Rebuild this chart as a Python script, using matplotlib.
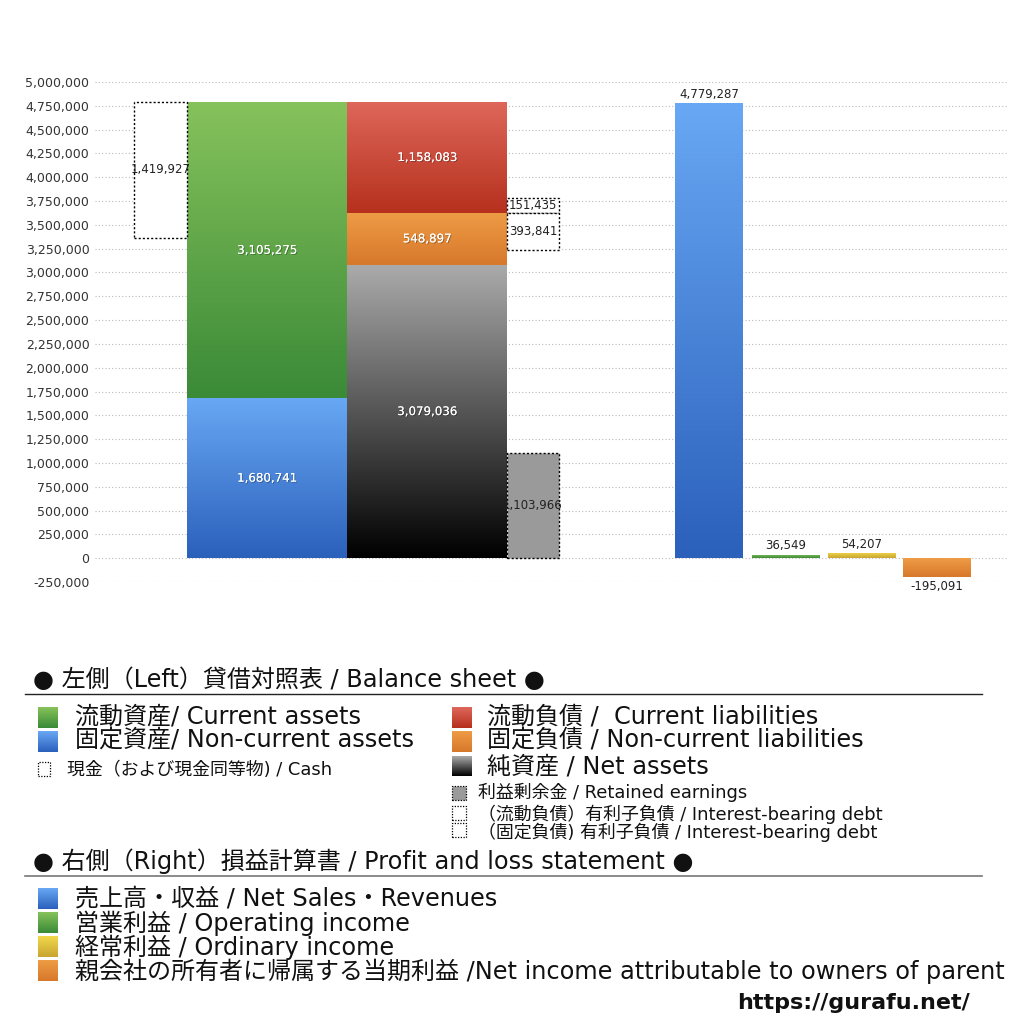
import numpy as np
import matplotlib
matplotlib.use("Agg")
import matplotlib.pyplot as plt
import matplotlib.patheffects as pe
from matplotlib.colors import LinearSegmentedColormap
from matplotlib.patches import Rectangle
from matplotlib.ticker import FuncFormatter

plt.rcParams['font.family'] = ['DejaVu Sans', 'Noto Sans CJK JP']

# balance sheet (left)
current_assets = 3105275
non_current_assets = 1680741
cash = 1419927
current_liabilities = 1158083
non_current_liabilities = 548897
net_assets = 3079036
retained_earnings = 1103966
debt_current = 151435
debt_non_current = 393841

# profit and loss (right)
pl_names = ['売上高・収益', '営業利益', '経常利益', '親会社の所有者に帰属する当期利益']
pl_values = [4779287, 36549, 54207, -195091]

yticks = list(range(-250000, 5000001, 250000))

# colours (top, bottom)
GREEN = ('#86c25c', '#3a8a37')
BLUE = ('#68a8f4', '#2b60bb')
RED = ('#de675a', '#b6301d')
ORANGE = ('#ee9c46', '#d7782b')
BLACK = ('#ababab', '#000000')
YELLOW = ('#f0d84a', '#c9a531')
PL_COLORS = [BLUE, GREEN, YELLOW, ORANGE]

W = H = 1024
fig = plt.figure(figsize=(10.24, 10.24), dpi=100)
ax = fig.add_axes([95 / W, 1 - 582 / H, 912 / W, 500 / H])


def grad_bar(x, h, w, bottom, cols):
    p = ax.bar(x, h, w, bottom=bottom, color='none', lw=0, zorder=2)[0]
    y0 = min(p.get_y(), p.get_y() + p.get_height())
    y1 = max(p.get_y(), p.get_y() + p.get_height())
    cmap = LinearSegmentedColormap.from_list('g', [cols[1], cols[0]])
    im = ax.imshow(np.linspace(0, 1, 256).reshape(-1, 1), cmap=cmap, origin='lower',
                   extent=[p.get_x(), p.get_x() + p.get_width(), y0, y1],
                   aspect='auto', zorder=2)
    im.set_clip_path(p)
    return p


def dotted_bar(x, h, w, bottom, face):
    return ax.bar(x, h, w, bottom=bottom, color=face, edgecolor='black',
                  linestyle=(0, (1.5, 1.5)), lw=1, zorder=3)[0]


shadow = [pe.withSimplePatchShadow(offset=(0.7, -0.7), shadow_rgbFace='black', alpha=0.3), pe.Normal()]


def inner_label(x, y, v, color='white'):
    ax.text(x, y, f'{v:,}', ha='center', va='center', fontsize=8.5, color=color,
            path_effects=shadow if color == 'white' else None, zorder=5)


total = non_current_assets + current_assets

# left: assets column
grad_bar(172, non_current_assets, 160, 0, BLUE)
grad_bar(172, current_assets, 160, non_current_assets, GREEN)
inner_label(172, non_current_assets / 2, non_current_assets)
inner_label(172, non_current_assets + current_assets / 2, current_assets)

dotted_bar(65.5, cash, 53, total - cash, 'white')
ax.text(65.5, total - cash / 2, f'{cash:,}', ha='center', va='center', fontsize=8.5, color='#222', zorder=5)

# liabilities / net assets column
grad_bar(332, net_assets, 160, 0, BLACK)
grad_bar(332, non_current_liabilities, 160, net_assets, ORANGE)
grad_bar(332, current_liabilities, 160, net_assets + non_current_liabilities, RED)
inner_label(332, net_assets / 2, net_assets)
inner_label(332, net_assets + non_current_liabilities / 2, non_current_liabilities)
inner_label(332, net_assets + non_current_liabilities + current_liabilities / 2, current_liabilities)

nc_top = net_assets + non_current_liabilities
dotted_bar(438, retained_earnings, 52, 0, '#9a9a9a')
dotted_bar(438, debt_current, 52, nc_top, 'white')
dotted_bar(438, debt_non_current, 52, nc_top - debt_non_current, 'white')
ax.text(438, retained_earnings / 2, f'{retained_earnings:,}', ha='center', va='center', fontsize=8.5, color='#222', zorder=5)
ax.text(438, nc_top + debt_current / 2, f'{debt_current:,}', ha='center', va='center', fontsize=8.5, color='#222', zorder=5)
ax.text(438, nc_top - debt_non_current / 2, f'{debt_non_current:,}', ha='center', va='center', fontsize=8.5, color='#222', zorder=5)

# right: P&L
pl_x = [614, 690.5, 766.5, 842]
for x, v, c in zip(pl_x, pl_values, PL_COLORS):
    grad_bar(x, v, 68, 0, c)
    if v >= 0:
        ax.text(x, v + 25000, f'{v:,}', ha='center', va='bottom', fontsize=8.5, color='#222')
    else:
        ax.text(x, v - 30000, f'{v:,}', ha='center', va='top', fontsize=8.5, color='#222')

ax.set_xlim(0, 912)
ax.set_ylim(-250000, 5000000)
ax.set_yticks(yticks)
ax.yaxis.set_major_formatter(FuncFormatter(lambda v, p: f'{int(v):,}'))
ax.set_xticks([])
ax.tick_params(axis='y', length=0, pad=4, labelsize=9, labelcolor='#333333')
ax.grid(axis='y', color='#bbbbbb', linestyle=(0, (1, 2)), lw=0.8, zorder=0)
ax.set_axisbelow(True)
for s in ax.spines.values():
    s.set_visible(False)


# ---- legend drawn in figure pixels ----
def fx(x):
    return x / W


def fy(y):
    return 1 - y / H


def legend_square(x0, y0, x1, y1, cols=None, face=None):
    if cols is not None:
        cmap = LinearSegmentedColormap.from_list('g', [cols[1], cols[0]])
        a = fig.add_axes([fx(x0), fy(y1), (x1 - x0) / W, (y1 - y0) / H])
        a.imshow(np.linspace(0, 1, 64).reshape(-1, 1), cmap=cmap, origin='lower', aspect='auto')
        a.axis('off')
    else:
        fig.patches.append(Rectangle((fx(x0), fy(y1)), (x1 - x0) / W, (y1 - y0) / H,
                                     transform=fig.transFigure, facecolor=face, edgecolor='black',
                                     linestyle=(0, (1, 1.2)), lw=0.9))


big = 17.3
small = 12.9

fig.text(fx(33), fy(680), '● 左側（Left）貸借対照表 / Balance sheet ●', fontsize=big, va='center', color='#111')
fig.add_artist(plt.Line2D([fx(25), fx(982)], [fy(694), fy(694)], color='#222', lw=1))

legend_square(38, 707, 58, 728, GREEN)
fig.text(fx(75), fy(717), '流動資産/ Current assets', fontsize=big, va='center', color='#111')
legend_square(38, 731, 58, 752, BLUE)
fig.text(fx(75), fy(741), '固定資産/ Non-current assets', fontsize=big, va='center', color='#111')
legend_square(38, 762, 50, 776, face='white')
fig.text(fx(67), fy(770), '現金（および現金同等物) / Cash', fontsize=small, va='center', color='#111')

legend_square(452, 707, 472, 728, RED)
fig.text(fx(487), fy(717), '流動負債 /  Current liabilities', fontsize=big, va='center', color='#111')
legend_square(452, 731, 472, 752, ORANGE)
fig.text(fx(487), fy(741), '固定負債 / Non-current liabilities', fontsize=big, va='center', color='#111')
legend_square(452, 756, 472, 776, BLACK)
fig.text(fx(487), fy(766), '純資産 / Net assets', fontsize=big, va='center', color='#111')
legend_square(452, 786, 466, 800, face='#9a9a9a')
fig.text(fx(478), fy(792), '利益剰余金 / Retained earnings', fontsize=small, va='center', color='#111')
legend_square(452, 806, 466, 820, face='white')
fig.text(fx(478), fy(814), '（流動負債）有利子負債 / Interest-bearing debt', fontsize=small, va='center', color='#111')
legend_square(452, 823, 466, 837, face='white')
fig.text(fx(478), fy(832), '（固定負債) 有利子負債 / Interest-bearing debt', fontsize=small, va='center', color='#111')

fig.text(fx(33), fy(861), '● 右側（Right）損益計算書 / Profit and loss statement ●', fontsize=big, va='center', color='#111')
fig.add_artist(plt.Line2D([fx(25), fx(982)], [fy(876), fy(876)], color='#777', lw=1.2))

pl_legend = [
    '売上高・収益 / Net Sales・Revenues',
    '営業利益 / Operating income',
    '経常利益 / Ordinary income',
    '親会社の所有者に帰属する当期利益 /Net income attributable to owners of parent',
]
for i, (txt, c) in enumerate(zip(pl_legend, PL_COLORS)):
    top = 888 + 24 * i
    legend_square(38, top, 58, top + 21, c)
    fig.text(fx(75), fy(top + 11), txt, fontsize=big, va='center', color='#111')

fig.text(fx(970), fy(1003), 'https://gurafu.net/', fontsize=16, fontweight='bold', ha='right', va='center', color='#111')

fig.savefig('out.png', dpi=100)
